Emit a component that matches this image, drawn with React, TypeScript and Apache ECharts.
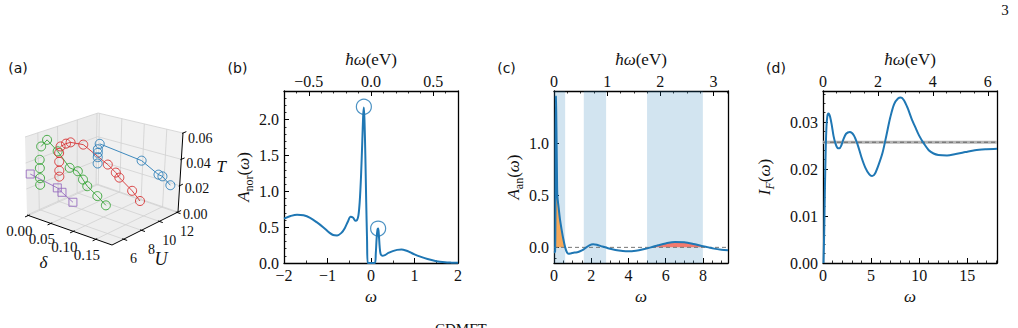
import React, { useEffect, useRef } from "react";
import * as echarts from "echarts";

// ---------------- conversion between omega and hbar*omega (eV) ----------------
const EV_PER_OMEGA = 0.35;

// ---------------- panel (a): 3D phase diagram (delta, U, T) ----------------
const DELTA_TICKS = [0.0, 0.05, 0.1, 0.15];
const U_TICKS = [6, 8, 10, 12];
const T_TICKS = [0.0, 0.02, 0.04, 0.06];
const DELTA_RANGE = [-0.003, 0.186];
const U_RANGE = [4.7, 12.1];
const T_RANGE = [0, 0.06];

const BLUE_U = 12;
const BLUE_COLUMN_T = [0.03, 0.027, 0.0233, 0.018];
const BLUE_DELTA = [0.004, 0.0995, 0.139, 0.148, 0.167];
const BLUE_T = [0.035, 0.031, 0.024, 0.0236, 0.0187];

const RED_U = 8;
const RED_COLUMN_T = [0.039, 0.032, 0.0248, 0.02];
const RED_DELTA = [0.0033, 0.0154, 0.0255, 0.0535, 0.108, 0.126, 0.134, 0.163, 0.181];
const RED_T = [0.0445, 0.048, 0.05, 0.051, 0.041, 0.0367, 0.0337, 0.0268, 0.0211];

const GREEN_U = 6;
const GREEN_COLUMN_T = [0.0392, 0.0327, 0.0249, 0.0197];
const GREEN_DELTA = [0.0037, 0.017, 0.04, 0.066, 0.084, 0.0953, 0.1047, 0.127, 0.146];
const GREEN_T = [0.05, 0.0565, 0.05, 0.04, 0.0393, 0.0342, 0.0302, 0.0252, 0.0204];

const PURPLE_U = 5;
const PURPLE_DELTA = [0.0, 0.0594, 0.0696, 0.0936];
const PURPLE_T = [0.031, 0.027, 0.0248, 0.02];

// ---------------- panel (b): A_nor(omega) ----------------
const B_OMEGA = [-2.0, -1.85, -1.7, -1.55, -1.4, -1.25, -1.1, -0.95, -0.87, -0.78, -0.68, -0.6, -0.53, -0.47, -0.41, -0.36, -0.32, -0.29, -0.26, -0.23, -0.2, -0.18, -0.165, -0.15, -0.13, -0.11, -0.09, -0.075, 0.0, 0.09, 0.11, 0.13, 0.15, 0.165, 0.18, 0.2, 0.22, 0.26, 0.32, 0.4, 0.5, 0.6, 0.7, 0.8, 0.9, 1.0, 1.15, 1.3, 1.5, 1.7, 1.85, 2.0];
const B_A = [0.62, 0.655, 0.675, 0.665, 0.63, 0.57, 0.5, 0.42, 0.39, 0.385, 0.42, 0.49, 0.58, 0.645, 0.63, 0.59, 0.6, 0.66, 0.85, 1.2, 1.7, 2.05, 2.17, 2.0, 1.5, 0.85, 0.3, 0.0, 0.0, 0.0, 0.13, 0.35, 0.47, 0.48, 0.4, 0.22, 0.13, 0.1, 0.11, 0.14, 0.165, 0.183, 0.187, 0.175, 0.15, 0.12, 0.085, 0.055, 0.025, 0.01, 0.005, 0.002];
const B_PEAK_OMEGA = [-0.164, 0.164];
const B_PEAK_A = [2.18, 0.48];
const B_X_TICKS = [-2, -1, 0, 1, 2];
const B_X_MINOR = [-1.5, -0.5, 0.5, 1.5];
const B_TOP_TICKS = [-0.5, 0, 0.5];
const B_TOP_MINOR = [-0.6, -0.4, -0.3, -0.2, -0.1, 0.1, 0.2, 0.3, 0.4, 0.6];
const B_Y_TICKS = [0, 0.5, 1.0, 1.5, 2.0];
const B_Y_MINOR = [0.1, 0.2, 0.3, 0.4, 0.6, 0.7, 0.8, 0.9, 1.1, 1.2, 1.3, 1.4, 1.6, 1.7, 1.8, 1.9, 2.1, 2.2, 2.3];

// ---------------- panel (c): A_an(omega) ----------------
const C_OMEGA = [0.0, 0.06, 0.08, 0.1, 0.12, 0.14, 0.16, 0.18, 0.25, 0.32, 0.4, 0.5, 0.6, 0.7, 0.78, 0.9, 1.1, 1.3, 1.5, 1.7, 1.9, 2.1, 2.3, 2.6, 2.9, 3.3, 3.7, 4.0, 4.4, 4.8, 5.2, 5.6, 6.0, 6.5, 7.0, 7.5, 8.0, 8.3, 8.6, 9.0, 9.35];
const C_A = [-0.05, -0.04, 0.5, 1.45, 1.3, 1.0, 0.7, 0.5, 0.38, 0.27, 0.18, 0.08, 0.0, -0.05, -0.062, -0.058, -0.05, -0.045, -0.03, -0.005, 0.02, 0.03, 0.025, 0.008, -0.008, -0.025, -0.035, -0.038, -0.032, -0.018, 0.0, 0.02, 0.038, 0.052, 0.048, 0.032, 0.012, 0.0, -0.012, -0.022, -0.028];
const C_BANDS = [[0, 0.6], [1.6, 2.8], [5.0, 8.0]];
const C_X_TICKS = [0, 2, 4, 6, 8];
const C_X_MINOR = [0.5, 1, 1.5, 2.5, 3, 3.5, 4.5, 5, 5.5, 6.5, 7, 7.5, 8.5, 9];
const C_TOP_TICKS = [0, 1, 2, 3];
const C_TOP_MINOR = [0.25, 0.5, 0.75, 1.25, 1.5, 1.75, 2.25, 2.5, 2.75, 3.25];
const C_Y_TICKS = [0, 0.5, 1.0];
const C_Y_MINOR = [-0.1, 0.1, 0.2, 0.3, 0.4, 0.6, 0.7, 0.8, 0.9, 1.1, 1.2, 1.3, 1.4];

// ---------------- panel (d): I_F(omega) ----------------
const D_OMEGA = [0.05, 0.12, 0.2, 0.28, 0.36, 0.45, 0.55, 0.63, 0.75, 0.9, 1.1, 1.3, 1.5, 1.7, 1.9, 2.1, 2.4, 2.8, 3.2, 3.6, 4.0, 4.4, 4.8, 5.1, 5.4, 5.8, 6.2, 6.6, 7.0, 7.4, 7.8, 8.1, 8.4, 8.8, 9.2, 9.6, 10.0, 10.5, 11.0, 11.5, 12.0, 12.9, 13.8, 14.8, 15.8, 17.0, 18.1];
const D_I = [0.0, 0.006, 0.016, 0.024, 0.029, 0.0312, 0.0318, 0.0317, 0.031, 0.0295, 0.027, 0.0254, 0.0245, 0.0244, 0.025, 0.0262, 0.0275, 0.0279, 0.0272, 0.0252, 0.0225, 0.0203, 0.0189, 0.0185, 0.019, 0.021, 0.0235, 0.0272, 0.031, 0.0338, 0.035, 0.0352, 0.0347, 0.033, 0.0308, 0.0289, 0.0271, 0.0254, 0.024, 0.0233, 0.023, 0.0229, 0.0232, 0.0236, 0.024, 0.0242, 0.0243];
const D_REFERENCE = 0.0257;
const D_X_TICKS = [0, 5, 10, 15];
const D_X_MINOR = [1, 2, 3, 4, 6, 7, 8, 9, 11, 12, 13, 14, 16, 17, 18];
const D_TOP_TICKS = [0, 2, 4, 6];
const D_TOP_MINOR = [0.5, 1, 1.5, 2.5, 3, 3.5, 4.5, 5, 5.5];
const D_Y_TICKS = [0, 0.01, 0.02, 0.03];
const D_Y_MINOR = [0.002, 0.004, 0.006, 0.008, 0.012, 0.014, 0.016, 0.018, 0.022, 0.024, 0.026, 0.028, 0.032, 0.034, 0.036];

// ---------------- styling ----------------
const SERIF = "Liberation Serif";
const SANS = "DejaVu Sans";
const INK = "#111";
const BLUE = "#1f77b4";
const RED = "#d62728";
const GREEN = "#2ca02c";
const PURPLE = "#9467bd";

type P = [number, number];
// screen geometry of the 3D box corners [delta][U][T]
const CORNERS: P[][][] = [
  [[[27, 215], [25, 137]], [[97, 184], [98, 113]]],
  [[[112, 245], [112, 162]], [[178, 212], [183, 133]]],
];

function proj(d: number, u: number, t: number): P {
  const fd = (d - DELTA_RANGE[0]) / (DELTA_RANGE[1] - DELTA_RANGE[0]);
  const fu = (u - U_RANGE[0]) / (U_RANGE[1] - U_RANGE[0]);
  const ft = (t - T_RANGE[0]) / (T_RANGE[1] - T_RANGE[0]);
  const out: P = [0, 0];
  for (let k = 0; k < 2; k++) {
    let v = 0;
    for (let i = 0; i < 2; i++)
      for (let j = 0; j < 2; j++)
        for (let l = 0; l < 2; l++) {
          const w = (i ? fd : 1 - fd) * (j ? fu : 1 - fu) * (l ? ft : 1 - ft);
          v += w * CORNERS[i][j][l][k];
        }
    out[k] = v;
  }
  return out;
}

const fmt = (dec: number) => (v: number) =>
  (v < -1e-9 ? "\u2212" : "") + Math.abs(v).toFixed(dec);

function buildOption() {
  const [D0, D1] = DELTA_RANGE;
  const [U0, U1] = U_RANGE;
  const [T0, T1] = T_RANGE;

  const seg = (a: P, b: P) => ({ coords: [a, b] });
  const gridSegs: any[] = [];
  DELTA_TICKS.forEach((d) => {
    gridSegs.push(seg(proj(d, U0, T0), proj(d, U1, T0)));
    gridSegs.push(seg(proj(d, U1, T0), proj(d, U1, T1)));
  });
  U_TICKS.forEach((u) => {
    gridSegs.push(seg(proj(D0, u, T0), proj(D1, u, T0)));
    gridSegs.push(seg(proj(D0, u, T0), proj(D0, u, T1)));
  });
  T_TICKS.forEach((t) => {
    gridSegs.push(seg(proj(D0, U0, t), proj(D0, U1, t)));
    gridSegs.push(seg(proj(D0, U1, t), proj(D1, U1, t)));
  });
  const axisSegs: any[] = [
    seg(proj(D0, U0, T0), proj(D1, U0, T0)),
    seg(proj(D1, U0, T0), proj(D1, U1, T0)),
    seg(proj(D1, U1, T0), proj(D1, U1, T1)),
  ];
  DELTA_TICKS.forEach((d) => axisSegs.push(seg(proj(d, U0 + 0.15, T0), proj(d, U0 - 0.35, T0))));
  U_TICKS.forEach((u) => axisSegs.push(seg(proj(D1 - 0.003, u, T0), proj(D1 + 0.008, u, T0))));
  T_TICKS.forEach((t) => axisSegs.push(seg(proj(D1, U1 - 0.1, t), proj(D1, U1 + 0.35, t))));

  const panes = [
    { pts: [proj(D0, U0, T0), proj(D1, U0, T0), proj(D1, U1, T0), proj(D0, U1, T0)], fill: "#eeeeee" },
    { pts: [proj(D0, U0, T0), proj(D0, U1, T0), proj(D0, U1, T1), proj(D0, U0, T1)], fill: "#ebebeb" },
    { pts: [proj(D0, U1, T0), proj(D1, U1, T0), proj(D1, U1, T1), proj(D0, U1, T1)], fill: "#f1f1f1" },
  ];

  const hollow = (color: string) => ({
    color: "rgba(0,0,0,0)",
    borderColor: color,
    borderWidth: 1,
    opacity: 0.85,
  });
  const line3d = (deltas: number[], u: number, ts: number[], color: string, symbol: string, size: number) => ({
    type: "line",
    xAxisIndex: 0,
    yAxisIndex: 0,
    data: deltas.map((d, i) => proj(d, u, ts[i])),
    symbol,
    symbolSize: size,
    showSymbol: true,
    itemStyle: hollow(color),
    lineStyle: { color, width: 1, opacity: 0.85 },
    silent: true,
    z: 5,
  });
  const column3d = (u: number, ts: number[], color: string) => ({
    type: "scatter",
    xAxisIndex: 0,
    yAxisIndex: 0,
    data: ts.map((t) => proj(0, u, t)),
    symbol: "circle",
    symbolSize: 9,
    itemStyle: hollow(color),
    silent: true,
    z: 5,
  });

  // ---------- axes for panels (b)-(d) ----------
  const xAxes: any[] = [{ gridIndex: 0, type: "value", min: 0, max: 240, show: false }];
  const yAxes: any[] = [{ gridIndex: 0, type: "value", min: 0, max: 328, inverse: true, show: false }];

  const labelStyle = { fontFamily: SERIF, fontSize: 16, color: INK };
  const base = (gridIndex: number, position: string, min: number, max: number) => ({
    gridIndex,
    type: "value",
    position,
    min,
    max,
    splitLine: { show: false },
    axisLine: { show: false, onZero: false },
    axisTick: { show: false },
    axisLabel: { show: false },
  });
  const major = (gridIndex: number, position: string, min: number, max: number, ticks: number[], dec: number, margin: number) => ({
    ...base(gridIndex, position, min, max),
    axisLine: { show: true, onZero: false, lineStyle: { color: "#000", width: 1.3 } },
    axisTick: { show: true, inside: true, length: 5, customValues: ticks, lineStyle: { color: "#000", width: 1 } },
    axisLabel: { show: true, customValues: ticks, formatter: fmt(dec), margin, ...labelStyle },
  });
  const minor = (gridIndex: number, position: string, min: number, max: number, ticks: number[]) => ({
    ...base(gridIndex, position, min, max),
    axisTick: { show: true, inside: true, length: 2.5, customValues: ticks, lineStyle: { color: "#000", width: 0.8 } },
  });
  const spine = (gridIndex: number, position: string) => ({
    ...base(gridIndex, position, 0, 1),
    axisLine: { show: true, onZero: false, lineStyle: { color: "#000", width: 1.3 } },
  });

  const mathRich = {
    i: { fontFamily: SERIF, fontStyle: "italic", fontSize: 17, color: INK, lineHeight: 24 },
    r: { fontFamily: SERIF, fontSize: 17, color: INK, lineHeight: 24 },
    s: { fontFamily: SERIF, fontSize: 12, color: INK, lineHeight: 11, verticalAlign: "bottom" },
    si: { fontFamily: SERIF, fontStyle: "italic", fontSize: 12, color: INK, lineHeight: 11, verticalAlign: "bottom" },
  };

  const panels = [
    { grid: 1, xr: [-2, 2], yr: [0, 2.4], xt: B_X_TICKS, xm: B_X_MINOR, xd: 0, tt: B_TOP_TICKS, tm: B_TOP_MINOR, td: 1, yt: B_Y_TICKS, ym: B_Y_MINOR, yd: 1, yName: "{i|A}{s|nor}{r|(}{i|ω}{r|)}", yGap: 29 },
    { grid: 2, xr: [0, 9.35], yr: [-0.15, 1.5], xt: C_X_TICKS, xm: C_X_MINOR, xd: 0, tt: C_TOP_TICKS, tm: C_TOP_MINOR, td: 0, yt: C_Y_TICKS, ym: C_Y_MINOR, yd: 1, yName: "{i|A}{s|an}{r|(}{i|ω}{r|)}", yGap: 29 },
    { grid: 3, xr: [0, 18.1], yr: [0, 0.0366], xt: D_X_TICKS, xm: D_X_MINOR, xd: 0, tt: D_TOP_TICKS, tm: D_TOP_MINOR, td: 0, yt: D_Y_TICKS, ym: D_Y_MINOR, yd: 2, yName: "{i|I}{si|F}{r|(}{i|ω}{r|)}", yGap: 47 },
  ];
  const dataAxis: Record<number, [number, number]> = {};
  panels.forEach((p) => {
    const xi = xAxes.length;
    xAxes.push({
      ...major(p.grid, "bottom", p.xr[0], p.xr[1], p.xt, p.xd, 4),
      name: "{i|ω}",
      nameLocation: "middle",
      nameGap: 17,
      nameTextStyle: { rich: mathRich },
    });
    xAxes.push(minor(p.grid, "bottom", p.xr[0], p.xr[1], p.xm));
    xAxes.push({
      ...major(p.grid, "top", p.xr[0] * EV_PER_OMEGA, p.xr[1] * EV_PER_OMEGA, p.tt, p.td, 2),
      name: "{i|ħω}{r|(eV)}",
      nameLocation: "middle",
      nameGap: 16,
      nameTextStyle: { rich: mathRich },
    });
    xAxes.push(minor(p.grid, "top", p.xr[0] * EV_PER_OMEGA, p.xr[1] * EV_PER_OMEGA, p.tm));
    const yi = yAxes.length;
    yAxes.push({
      ...major(p.grid, "left", p.yr[0], p.yr[1], p.yt, p.yd, 5),
      name: p.yName,
      nameLocation: "middle",
      nameGap: p.yGap,
      nameTextStyle: { rich: mathRich },
    });
    yAxes.push(minor(p.grid, "left", p.yr[0], p.yr[1], p.ym));
    yAxes.push(spine(p.grid, "right"));
    dataAxis[p.grid] = [xi, yi];
  });

  const [bx, by] = dataAxis[1];
  const [cx, cy] = dataAxis[2];
  const [dx, dy] = dataAxis[3];

  const bandFill = (lo: number, hi: number) =>
    C_OMEGA.map((w, i) => [w, C_A[i]] as P)
      .filter(([w]) => w >= lo && w <= hi)
      .map(([w, a]) => [w, Math.max(a, 0)]);

  const curveLine = { color: BLUE, width: 2 };

  const series: any[] = [
    // ----- (a) -----
    {
      type: "custom",
      xAxisIndex: 0,
      yAxisIndex: 0,
      silent: true,
      z: 1,
      data: panes.map((_, i) => [i, 0]),
      renderItem: (params: any, api: any) => {
        const pane = panes[params.dataIndex];
        return {
          type: "polygon",
          shape: { points: pane.pts.map((p) => api.coord(p)) },
          style: { fill: pane.fill, stroke: "none" },
        };
      },
    },
    {
      type: "lines",
      coordinateSystem: "cartesian2d",
      xAxisIndex: 0,
      yAxisIndex: 0,
      silent: true,
      z: 2,
      data: gridSegs,
      lineStyle: { color: "#d0d0d0", width: 0.8, opacity: 1 },
    },
    {
      type: "lines",
      coordinateSystem: "cartesian2d",
      xAxisIndex: 0,
      yAxisIndex: 0,
      silent: true,
      z: 3,
      data: axisSegs,
      lineStyle: { color: "#000", width: 1, opacity: 1 },
    },
    line3d(PURPLE_DELTA, PURPLE_U, PURPLE_T, PURPLE, "rect", 8),
    line3d(GREEN_DELTA, GREEN_U, GREEN_T, GREEN, "circle", 9),
    column3d(GREEN_U, GREEN_COLUMN_T, GREEN),
    line3d(RED_DELTA, RED_U, RED_T, RED, "circle", 9),
    column3d(RED_U, RED_COLUMN_T, RED),
    line3d(BLUE_DELTA, BLUE_U, BLUE_T, BLUE, "circle", 9),
    column3d(BLUE_U, BLUE_COLUMN_T, BLUE),

    // ----- (b) -----
    {
      type: "line",
      xAxisIndex: bx,
      yAxisIndex: by,
      data: B_OMEGA.map((w, i) => [w, B_A[i]]),
      showSymbol: false,
      smooth: 0.3,
      lineStyle: curveLine,
      silent: true,
      z: 3,
    },
    {
      type: "scatter",
      xAxisIndex: bx,
      yAxisIndex: by,
      data: B_PEAK_OMEGA.map((w, i) => [w, B_PEAK_A[i]]),
      symbol: "circle",
      symbolSize: 15,
      itemStyle: { color: "rgba(0,0,0,0)", borderColor: BLUE, borderWidth: 1.2 },
      silent: true,
      z: 4,
    },

    // ----- (c) -----
    {
      type: "line",
      xAxisIndex: cx,
      yAxisIndex: cy,
      data: [[C_OMEGA[0], 0], [C_OMEGA[C_OMEGA.length - 1], 0]],
      showSymbol: false,
      lineStyle: { color: "#777", width: 1, type: [4, 3] },
      silent: true,
      z: 2,
      markArea: {
        silent: true,
        itemStyle: { color: "rgba(31,119,180,0.2)" },
        data: C_BANDS.map(([a, b]) => [{ xAxis: a }, { xAxis: b }]),
      },
    },
    {
      type: "line",
      xAxisIndex: cx,
      yAxisIndex: cy,
      data: bandFill(C_BANDS[0][0], C_BANDS[0][1]),
      showSymbol: false,
      smooth: 0.3,
      lineStyle: { width: 0 },
      areaStyle: { color: "#f6a95a", opacity: 1 },
      silent: true,
      z: 2,
    },
    {
      type: "line",
      xAxisIndex: cx,
      yAxisIndex: cy,
      data: bandFill(C_BANDS[2][0], C_BANDS[2][1]),
      showSymbol: false,
      smooth: 0.3,
      lineStyle: { width: 0 },
      areaStyle: { color: "#f47a6e", opacity: 1 },
      silent: true,
      z: 2,
    },
    {
      type: "line",
      xAxisIndex: cx,
      yAxisIndex: cy,
      data: C_OMEGA.map((w, i) => [w, C_A[i]]),
      showSymbol: false,
      smooth: 0.3,
      lineStyle: curveLine,
      silent: true,
      z: 3,
    },

    // ----- (d) -----
    {
      type: "line",
      xAxisIndex: dx,
      yAxisIndex: dy,
      data: [[0, D_REFERENCE], [18.1, D_REFERENCE]],
      showSymbol: false,
      lineStyle: { color: "#b4b4b4", width: 3 },
      silent: true,
      z: 2,
    },
    {
      type: "line",
      xAxisIndex: dx,
      yAxisIndex: dy,
      data: [[0, D_REFERENCE], [18.1, D_REFERENCE]],
      showSymbol: false,
      lineStyle: { color: "#666", width: 1, type: [4, 3] },
      silent: true,
      z: 2,
    },
    {
      type: "line",
      xAxisIndex: dx,
      yAxisIndex: dy,
      data: D_OMEGA.map((w, i) => [w, D_I[i]]),
      showSymbol: false,
      smooth: 0.3,
      lineStyle: curveLine,
      silent: true,
      z: 3,
    },
  ];

  // ---------- texts ----------
  const txt = (text: string, x: number, y: number, opts: any = {}) => ({
    type: "text",
    x,
    y,
    silent: true,
    style: {
      text,
      fill: INK,
      fontFamily: opts.family || SERIF,
      fontSize: opts.size || 15,
      fontStyle: opts.italic ? "italic" : "normal",
      align: opts.align || "center",
      verticalAlign: opts.valign || "middle",
      textAlign: opts.align || "center",
      textVerticalAlign: opts.valign || "middle",
    },
  });
  const graphics: any[] = [];
  DELTA_TICKS.forEach((d) => {
    const p = proj(d, U0, T0);
    graphics.push(txt(d.toFixed(2), p[0] - 9, p[1] + 16));
  });
  U_TICKS.forEach((u) => {
    const p = proj(D1, u, T0);
    graphics.push(txt(String(u), p[0] + 10, p[1] + 19, { size: 14 }));
  });
  T_TICKS.forEach((t) => {
    const p = proj(D1, U1, t);
    const ft = (t - T0) / (T1 - T0);
    graphics.push(txt(t.toFixed(2), p[0] + 5, p[1] + 2 + 3 * ft, { align: "left", size: 14 }));
  });
  const dMid = proj((D0 + D1) / 2, U0, T0);
  graphics.push(txt("δ", dMid[0] - 26, dMid[1] + 32, { size: 17, italic: true }));
  const uMid = proj(D1, (U0 + U1) / 2, T0);
  graphics.push(txt("U", uMid[0] + 16, uMid[1] + 30, { size: 18, italic: true }));
  const tMid = proj(D1, U1, (T0 + T1) / 2);
  graphics.push(txt("T", tMid[0] + 36, tMid[1] - 6, { size: 17, italic: true, align: "left" }));

  graphics.push(txt("(a)", 18, 68, { family: SANS, size: 14 }));
  graphics.push(txt("(b)", 237.5, 68, { family: SANS, size: 14 }));
  graphics.push(txt("(c)", 506.5, 68, { family: SANS, size: 14 }));
  graphics.push(txt("(d)", 776, 68, { family: SANS, size: 14 }));
  graphics.push(txt("3", 1005, 10, { size: 15 }));
  graphics.push(txt("CDMFT", 435, 321, { size: 15, align: "left", valign: "top" }));

  return {
    animation: false,
    backgroundColor: "#ffffff",
    grid: [
      { left: 0, top: 0, width: 240, height: 328 },
      { left: 284, top: 91, width: 174, height: 172 },
      { left: 554, top: 91, width: 174, height: 172 },
      { left: 823, top: 91, width: 174, height: 172 },
    ],
    xAxis: xAxes,
    yAxis: yAxes,
    series,
    graphic: { elements: graphics },
  };
}

export default function App() {
  const ref = useRef<HTMLDivElement>(null);
  useEffect(() => {
    if (!ref.current) return;
    const chart = echarts.init(ref.current, undefined, { renderer: "svg" });
    chart.setOption(buildOption() as any);
    return () => chart.dispose();
  }, []);
  return (
    <div
      ref={ref}
      style={{ position: "fixed", left: 0, top: 0, width: 1018, height: 328, background: "#fff" }}
    />
  );
}
